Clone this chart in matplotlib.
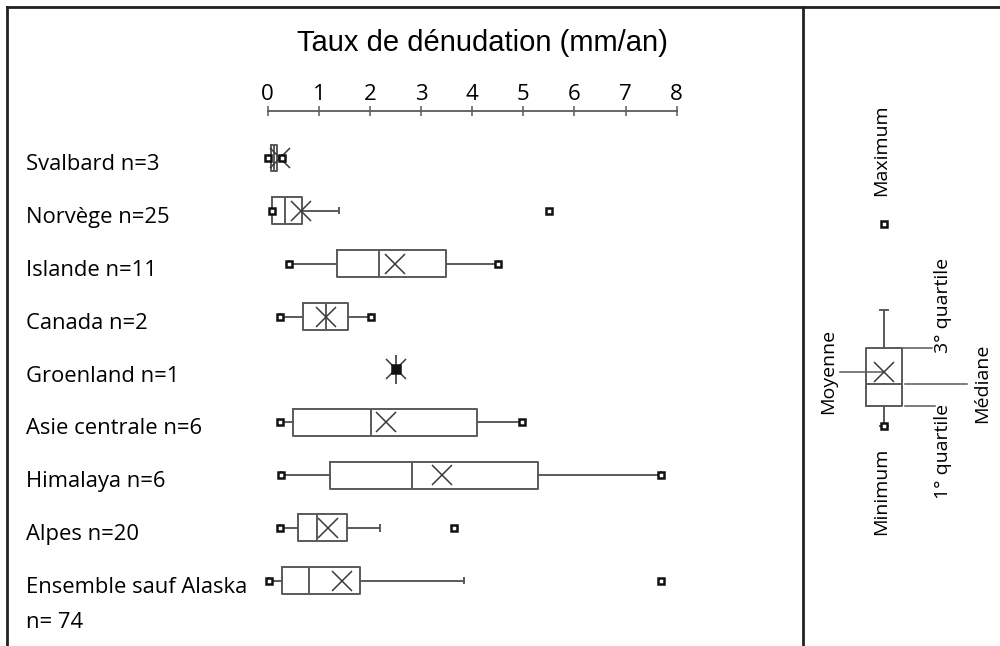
import matplotlib
matplotlib.use("Agg")
import matplotlib.pyplot as plt
from matplotlib.lines import Line2D
from matplotlib.transforms import blended_transform_factory

# données (mm/an)
regions = ['Svalbard n=3', 'Norvège n=25', 'Islande n=11', 'Canada n=2',
           'Groenland n=1', 'Asie centrale n=6', 'Himalaya n=6',
           'Alpes n=20', 'Ensemble sauf Alaska\nn= 74']
mins = [0.0, 0.08, 0.42, 0.25, 2.5, 0.24, 0.26, 0.25, 0.03]
q1 = [0.07, 0.09, 1.35, 0.70, 2.5, 0.50, 1.21, 0.59, 0.28]
medianes = [0.13, 0.33, 2.18, 1.14, 2.5, 2.02, 2.82, 0.97, 0.81]
q3 = [0.18, 0.67, 3.49, 1.57, 2.5, 4.09, 5.28, 1.56, 1.80]
moustache_haut = [0.27, 1.39, 4.51, 2.02, 2.5, 4.98, 7.69, 2.20, 3.84]
maxs = [0.27, 5.50, 4.51, 2.02, 2.5, 4.98, 7.69, 3.65, 7.70]
moyennes = [0.24, 0.65, 2.49, 1.14, 2.5, 2.32, 3.40, 1.17, 1.46]
graduations = [0, 1, 2, 3, 4, 5, 6, 7, 8]

# boîte schématique de la légende (unités arbitraires)
leg_min, leg_q1, leg_med, leg_moy, leg_q3, leg_moust, leg_max = 0, 1.0, 2.1, 2.7, 3.9, 5.8, 10.1

police = 'Open Sans'
gris = '#5a5a5a'

fig = plt.figure(figsize=(10, 6.46), dpi=100, facecolor='white')

# ---- panneau principal ----
ax = fig.add_axes([0.2677, 0.0, 0.409, 0.8282])
n = len(regions)
rangs = list(range(n))
stats = []
for i in rangs:
    stats.append(dict(label=regions[i], whislo=mins[i], q1=q1[i], med=medianes[i],
                      q3=q3[i], whishi=moustache_haut[i], mean=moyennes[i], fliers=[]))

ligne = dict(color=gris, linewidth=1.4)
croix = dict(marker='x', markersize=14, markeredgecolor='#3a3a3a', markeredgewidth=1.1)
ax.bxp(stats, positions=rangs, widths=0.51, orientation='horizontal',
       showmeans=True, showfliers=False, capwidths=0.1,
       boxprops=ligne, whiskerprops=ligne, capprops=ligne, medianprops=ligne,
       meanprops=croix)
carre = dict(linestyle='none', marker='s', markersize=5, markerfacecolor='white',
             markeredgecolor='#111111', markeredgewidth=1.8, clip_on=False, zorder=5)
ax.plot(mins, rangs, **carre)
ax.plot(maxs, rangs, **carre)
# une seule valeur : carré plein
uniques = [i for i in rangs if mins[i] == maxs[i]]
plein = dict(carre, markerfacecolor='#111111', markersize=6)
ax.plot([mins[i] for i in uniques], uniques, **plein)

ax.set_xlim(0, 8)
ax.set_ylim((646 - 158) / 52.84, (111 - 158) / 52.84)
for s in ['left', 'right', 'bottom']:
    ax.spines[s].set_visible(False)
ax.spines['top'].set_color(gris)
ax.spines['top'].set_linewidth(1.3)
ax.set_yticks([])
ax.xaxis.tick_top()
ax.set_xticks(graduations)
ax.set_xticklabels([str(g) for g in graduations], fontfamily=police, fontsize=16)
ax.tick_params(axis='x', direction='inout', length=7, width=1.1, color=gris, pad=1)
ax.set_facecolor('none')

trans = blended_transform_factory(fig.transFigure, ax.transData)
for i in rangs:
    ax.text(0.026, i - 0.07, regions[i], transform=trans, ha='left', va='top',
            fontfamily=police, fontsize=15.8, linespacing=1.9, clip_on=False)

fig.text(0.4825, 1 - 43 / 646, 'Taux de dénudation (mm/an)', ha='center', va='center',
         fontfamily='Liberation Sans', fontsize=21)

# ---- légende ----
axl = fig.add_axes([0.802, 0.0, 0.198, 1.0])
axl.set_xlim(-4.1, 5.8)
axl.set_ylim(-(646 - 425.7) / 20, 425.7 / 20)
axl.axis('off')
axl.bxp([dict(whislo=leg_min, q1=leg_q1, med=leg_med, q3=leg_q3, whishi=leg_moust,
              mean=leg_moy, fliers=[])],
        positions=[0], widths=1.8, showmeans=True, showfliers=False, capwidths=0.4,
        boxprops=ligne, whiskerprops=ligne, capprops=ligne, medianprops=ligne,
        meanprops=croix)
axl.plot([0, 0], [leg_min, leg_max], **carre)

trait = dict(color=gris, linewidth=1.1)
axl.plot([-2.2, 0], [leg_moy, leg_moy], **trait)
axl.plot([0.9, 2.4], [leg_q3, leg_q3], **trait)
axl.plot([1.05, 4.15], [leg_med, leg_med], **trait)
axl.plot([1.05, 2.55], [leg_q1, leg_q1], **trait)

tl = dict(rotation=90, fontfamily=police, fontsize=14, ha='center')
axl.text(-0.12, 13.8, 'Maximum', va='center', **tl)
axl.text(-0.12, -3.27, 'Minimum', va='center', **tl)
axl.text(-2.8, leg_moy, 'Moyenne', va='center', **tl)
axl.text(2.95, leg_q3 - 0.25, '3° quartile', va='bottom', **tl)
axl.text(4.9, leg_med, 'Médiane', va='center', **tl)
axl.text(2.95, leg_q1 + 0.1, '1° quartile', va='top', **tl)

# ---- cadre ----
cadre = dict(color='#222222', linewidth=2.0, transform=fig.transFigure)
fig.add_artist(Line2D([7 / 1000, 1.0], [1 - 7 / 646, 1 - 7 / 646], **cadre))
fig.add_artist(Line2D([7 / 1000, 7 / 1000], [0, 1 - 7 / 646], **cadre))
fig.add_artist(Line2D([803 / 1000, 803 / 1000], [0, 1 - 7 / 646], **cadre))

fig.savefig('out.png', dpi=100, facecolor='white')
